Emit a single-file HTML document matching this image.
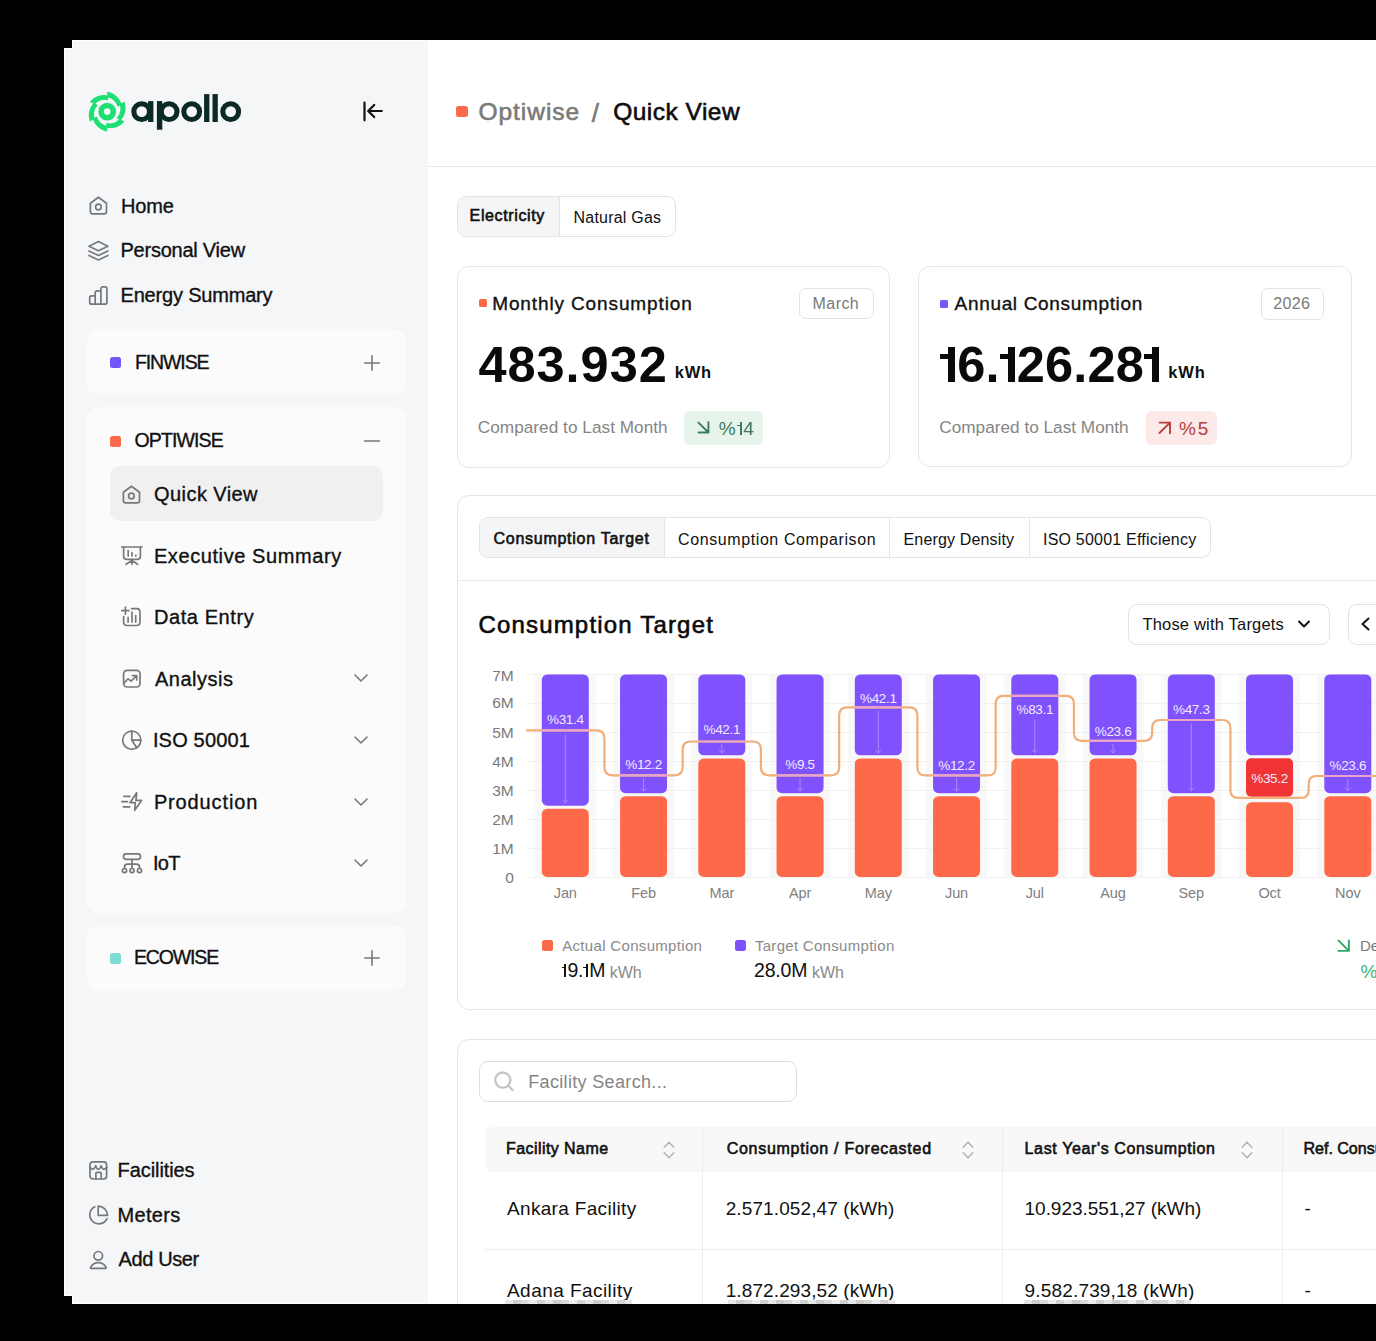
<!DOCTYPE html><html><head><meta charset="utf-8"><style>*{margin:0;padding:0;box-sizing:border-box}
html,body{width:1376px;height:1341px;overflow:hidden;background:#000}
body{position:relative;font-family:"Liberation Sans",sans-serif}
.a{position:absolute}
.t{position:absolute;white-space:nowrap;line-height:1}
.m{-webkit-text-stroke:0.35px currentColor}
.m2{-webkit-text-stroke:0.6px currentColor}
.o1{display:inline-block;position:relative;width:17px;height:35px}
.o1::before{content:"";position:absolute;left:8.1px;top:0;width:6.7px;height:35px;background:currentColor}
.o1s{display:inline-block;position:relative;width:7px;height:13.6px}
.o1s::before{content:"";position:absolute;left:3.3px;top:0;width:2.5px;height:13.6px;background:currentColor}
.o1s::after{content:"";position:absolute;left:0.2px;top:2.8px;width:3.4px;height:2.2px;background:currentColor}
.o1r{display:inline-block;position:relative;width:6.6px;height:13.4px}
.o1r::before{content:"";position:absolute;left:3.4px;top:0;width:1.8px;height:13.4px;background:currentColor}
.o1r::after{content:"";position:absolute;left:0.6px;top:2.7px;width:3px;height:1.7px;background:currentColor}
.o1::after{content:"";position:absolute;left:0;top:7.2px;width:9px;height:5.6px;background:currentColor}
</style></head><body>
<div class="a" style="left:72px;top:40px;width:1304px;height:1264px;background:#fff"></div>
<div class="a" style="left:64px;top:48px;width:8px;height:1248px;background:#fff"></div>
<div class="a" style="left:73px;top:41px;width:355px;height:1262px;background:#f5f6f8"></div>
<div class="a" style="left:65px;top:49px;width:8px;height:1246px;background:#f5f6f8"></div>
<svg class="a" style="left:80px;top:85px" width="55" height="55" viewBox="80 85 55 55"><circle cx="107.2" cy="111.6" r="6.1" fill="none" stroke="#1ddf73" stroke-width="5.6"/><path d="M89.97 101.65 L91.05 100.47 L92.21 99.40 L93.44 98.44 L94.72 97.60 L96.05 96.88 L97.41 96.27 L98.80 95.80 L100.20 95.44 L101.60 95.20 L102.99 95.08 L104.37 95.08 L105.72 95.19 L107.04 95.42 L108.31 95.74 L107.99 100.33 L107.09 100.09 L106.15 99.92 L105.18 99.83 L104.20 99.82 L103.20 99.89 L102.20 100.05 L101.19 100.30 L100.19 100.63 L99.21 101.06 L98.25 101.57 L97.33 102.16 L96.44 102.84 L95.60 103.61 L94.82 104.45 Z" fill="#1ddf73"/><path d="M107.20 91.70 L108.76 92.05 L110.27 92.52 L111.71 93.10 L113.09 93.79 L114.37 94.58 L115.58 95.46 L116.69 96.42 L117.70 97.45 L118.60 98.55 L119.40 99.70 L120.09 100.89 L120.67 102.12 L121.14 103.37 L121.49 104.63 L117.36 106.65 L117.11 105.74 L116.79 104.85 L116.39 103.97 L115.90 103.11 L115.34 102.28 L114.70 101.49 L113.98 100.74 L113.19 100.05 L112.34 99.41 L111.42 98.84 L110.44 98.33 L109.40 97.90 L108.32 97.56 L107.20 97.30 Z" fill="#1ddf73"/><path d="M124.43 101.65 L124.91 103.18 L125.26 104.72 L125.48 106.26 L125.57 107.79 L125.53 109.30 L125.37 110.78 L125.09 112.22 L124.70 113.62 L124.20 114.95 L123.61 116.22 L122.92 117.41 L122.15 118.52 L121.30 119.55 L120.38 120.49 L116.57 117.92 L117.23 117.26 L117.84 116.53 L118.40 115.74 L118.90 114.89 L119.34 113.99 L119.70 113.04 L119.99 112.05 L120.20 111.02 L120.33 109.96 L120.36 108.87 L120.31 107.77 L120.16 106.66 L119.92 105.55 L119.58 104.45 Z" fill="#1ddf73"/><path d="M124.43 121.55 L123.35 122.73 L122.19 123.80 L120.96 124.76 L119.68 125.60 L118.35 126.32 L116.99 126.93 L115.60 127.40 L114.20 127.76 L112.80 128.00 L111.41 128.12 L110.03 128.12 L108.68 128.01 L107.36 127.78 L106.09 127.46 L106.41 122.87 L107.31 123.11 L108.25 123.28 L109.22 123.37 L110.20 123.38 L111.20 123.31 L112.20 123.15 L113.21 122.90 L114.21 122.57 L115.19 122.14 L116.15 121.63 L117.07 121.04 L117.96 120.36 L118.80 119.59 L119.58 118.75 Z" fill="#1ddf73"/><path d="M107.20 131.50 L105.64 131.15 L104.13 130.68 L102.69 130.10 L101.31 129.41 L100.03 128.62 L98.82 127.74 L97.71 126.78 L96.70 125.75 L95.80 124.65 L95.00 123.50 L94.31 122.31 L93.73 121.08 L93.26 119.83 L92.91 118.57 L97.04 116.55 L97.29 117.46 L97.61 118.35 L98.01 119.23 L98.50 120.09 L99.06 120.92 L99.70 121.71 L100.42 122.46 L101.21 123.15 L102.06 123.79 L102.98 124.36 L103.96 124.87 L105.00 125.30 L106.08 125.64 L107.20 125.90 Z" fill="#1ddf73"/><path d="M89.97 121.55 L89.49 120.02 L89.14 118.48 L88.92 116.94 L88.83 115.41 L88.87 113.90 L89.03 112.42 L89.31 110.98 L89.70 109.58 L90.20 108.25 L90.79 106.98 L91.48 105.79 L92.25 104.68 L93.10 103.65 L94.02 102.71 L97.83 105.28 L97.17 105.94 L96.56 106.67 L96.00 107.46 L95.50 108.31 L95.06 109.21 L94.70 110.16 L94.41 111.15 L94.20 112.18 L94.07 113.24 L94.04 114.33 L94.09 115.43 L94.24 116.54 L94.48 117.65 L94.82 118.75 Z" fill="#1ddf73"/></svg>
<svg class="a" style="left:125px;top:88px" width="125" height="45" viewBox="125 88 125 45"><g fill="none" stroke="#0a2a23" stroke-width="5.1"><circle cx="141.7" cy="111.6" r="7.9"/><circle cx="169.1" cy="111.6" r="7.9"/><circle cx="191.7" cy="111.6" r="7.9"/><circle cx="230.7" cy="111.6" r="7.9"/></g><g fill="#0a2a23"><rect x="148.1" y="101.1" width="5.3" height="20.9"/><rect x="156.9" y="101.1" width="5.4" height="28.6"/><rect x="204.1" y="94.1" width="5.3" height="27.9"/><rect x="212.5" y="94.1" width="5.3" height="27.9"/></g></svg>
<svg class="a" style="left:355px;top:96px" width="30" height="30" viewBox="0 0 30 30" fill="none" stroke="#111" stroke-width="2.2" stroke-linecap="round" stroke-linejoin="round"><path d="M9.5 6.5 V24.3 M26.8 15 H13.3 M19.2 8.9 L13.2 15 L19.2 21.1"/></svg>
<svg class="a" style="left:84px;top:190px" width="30" height="30" viewBox="0 0 30 30" fill="none" stroke="#76797c" stroke-width="1.7" stroke-linecap="round" stroke-linejoin="round"><path d="M6.4 13.2 L14.4 7.3 L22.5 13.2 V21.4 Q22.5 23.8 20.1 23.8 H8.8 Q6.4 23.8 6.4 21.4 Z"/><circle cx="14.4" cy="17" r="2.8"/></svg>
<div class="t m" style="left:120.90px;top:195.67px;font-size:20px;color:#111;letter-spacing:-0.133px;">Home</div>
<svg class="a" style="left:84px;top:236px" width="30" height="30" viewBox="0 0 30 30" fill="none" stroke="#76797c" stroke-width="1.7" stroke-linecap="round" stroke-linejoin="round"><path d="M14.4 5.5 L23.9 10.3 L14.4 14.8 L5 10.3 Z"/><path d="M5 14.9 L14.4 19.4 L23.9 14.9"/><path d="M5 19.5 L14.4 24 L23.9 19.5"/></svg>
<div class="t m" style="left:120.50px;top:239.77px;font-size:20px;color:#111;letter-spacing:-0.242px;">Personal View</div>
<svg class="a" style="left:84px;top:281px" width="30" height="30" viewBox="0 0 30 30" fill="none" stroke="#76797c" stroke-width="1.7" stroke-linecap="round" stroke-linejoin="round"><path d="M5.7 16.9 Q5.7 14.9 7.7 14.9 H11.2 V11.9 Q11.2 9.9 13.2 9.9 H16.9 V7.9 Q16.9 5.9 18.9 5.9 H20.9 Q22.9 5.9 22.9 7.9 V21.2 Q22.9 23.2 20.9 23.2 H7.7 Q5.7 23.2 5.7 21.2 Z M11.2 14.9 V23.2 M16.9 9.9 V23.2"/></svg>
<div class="t m" style="left:120.50px;top:285.27px;font-size:20px;color:#111;letter-spacing:-0.185px;">Energy Summary</div>
<div class="a" style="left:87px;top:329px;width:319px;height:66px;background:#fbfbfb;border-radius:12px"></div>
<div class="a" style="left:110px;top:357px;width:11px;height:11px;background:#7356f8;border-radius:2.5px"></div>
<div class="t m" style="left:135.00px;top:352.89px;font-size:19.5px;color:#111;letter-spacing:-1.117px;">FINWISE</div>
<svg class="a" style="left:357px;top:348px" width="30" height="30" viewBox="0 0 30 30" fill="none" stroke="#76797c" stroke-width="1.6" stroke-linecap="round" stroke-linejoin="round"><path d="M15 7.8 V22.2 M7.8 15 H22.2"/></svg>
<div class="a" style="left:87px;top:407px;width:319px;height:506px;background:#fbfbfb;border-radius:12px"></div>
<div class="a" style="left:110px;top:435.5px;width:11px;height:11px;background:#fb6a4a;border-radius:2.5px"></div>
<div class="t m" style="left:134.50px;top:431.49px;font-size:19.5px;color:#111;letter-spacing:-0.886px;">OPTIWISE</div>
<svg class="a" style="left:357px;top:426px" width="30" height="30" viewBox="0 0 30 30" fill="none" stroke="#76797c" stroke-width="1.6" stroke-linecap="round" stroke-linejoin="round"><path d="M7.5 15 H22.5"/></svg>
<div class="a" style="left:110px;top:466px;width:273px;height:55px;background:#f0f0f1;border-radius:10px"></div>
<svg class="a" style="left:117px;top:479px" width="30" height="30" viewBox="0 0 30 30" fill="none" stroke="#76797c" stroke-width="1.7" stroke-linecap="round" stroke-linejoin="round"><path d="M6.4 13.2 L14.4 7.3 L22.5 13.2 V21.4 Q22.5 23.8 20.1 23.8 H8.8 Q6.4 23.8 6.4 21.4 Z"/><circle cx="14.4" cy="17" r="2.8"/></svg>
<div class="t m" style="left:154.10px;top:483.97px;font-size:20px;color:#111;letter-spacing:0.422px;">Quick View</div>
<svg class="a" style="left:117px;top:541px" width="30" height="30" viewBox="0 0 30 30" fill="none" stroke="#76797c" stroke-width="1.7" stroke-linecap="round" stroke-linejoin="round"><path d="M4.8 6 H25"/><path d="M6.6 6 V15.3 Q6.6 18.3 9.6 18.3 H20.4 Q23.4 18.3 23.4 15.3 V6"/><path d="M11.2 9.6 V15"/><path d="M15 11.5 V15"/><path d="M18.8 14 V15"/><path d="M14.9 18.3 V23.3 M14.9 19.5 L9 23.3 M14.9 19.5 L20.6 23.3"/></svg>
<div class="t m" style="left:153.90px;top:546.27px;font-size:20px;color:#111;letter-spacing:0.594px;">Executive Summary</div>
<svg class="a" style="left:117px;top:602px" width="30" height="30" viewBox="0 0 30 30" fill="none" stroke="#76797c" stroke-width="1.7" stroke-linecap="round" stroke-linejoin="round"><path d="M8.4 5 V12.2 M4.8 8.6 H12"/><path d="M14.6 6.6 H19.6 Q23 6.6 23 10 V20.1 Q23 23.5 19.6 23.5 H10 Q6.6 23.5 6.6 20.1 V14.6"/><path d="M11.1 15.4 V20.1 M15 10.2 V20.1 M18.7 13.6 V20.1"/></svg>
<div class="t m" style="left:153.90px;top:606.87px;font-size:20px;color:#111;letter-spacing:0.589px;">Data Entry</div>
<svg class="a" style="left:117px;top:664px" width="30" height="30" viewBox="0 0 30 30" fill="none" stroke="#76797c" stroke-width="1.7" stroke-linecap="round" stroke-linejoin="round"><rect x="6.6" y="6.3" width="16.4" height="16.7" rx="3.4"/><path d="M6.8 19.4 L11 14.8 L14.1 17.2 L19.7 11.6 M15.4 11.6 H19.7 V16"/></svg>
<div class="t m" style="left:154.90px;top:668.67px;font-size:20px;color:#111;letter-spacing:0.514px;">Analysis</div>
<svg class="a" style="left:117px;top:725px" width="30" height="30" viewBox="0 0 30 30" fill="none" stroke="#76797c" stroke-width="1.7" stroke-linecap="round" stroke-linejoin="round"><circle cx="14.8" cy="15.2" r="9.1"/><path d="M14.8 6.1 V15.2 H23.9 M14.8 15.2 L19.8 22.8"/></svg>
<div class="t m" style="left:152.90px;top:730.07px;font-size:20px;color:#111;letter-spacing:0.175px;">ISO 50001</div>
<svg class="a" style="left:117px;top:787px" width="30" height="30" viewBox="0 0 30 30" fill="none" stroke="#76797c" stroke-width="1.7" stroke-linecap="round" stroke-linejoin="round"><path d="M6.9 9.4 H12.8 M4.9 14.7 H10.5 M6.3 19.8 H12.8"/><path d="M19.7 5.8 L13 15.7 H18.3 L17.7 23.3 L24.6 13.4 H19 Z"/></svg>
<div class="t m" style="left:153.90px;top:791.57px;font-size:20px;color:#111;letter-spacing:0.867px;">Production</div>
<svg class="a" style="left:117px;top:848px" width="30" height="30" viewBox="0 0 30 30" fill="none" stroke="#76797c" stroke-width="1.7" stroke-linecap="round" stroke-linejoin="round"><rect x="6.5" y="5.8" width="17" height="5.6" rx="2.6"/><path d="M15 11.4 V20.5 M7.5 20.5 V19 Q7.5 16.1 10.4 16.1 H19.6 Q22.5 16.1 22.5 19 V20.5"/><circle cx="7.5" cy="22.6" r="2.1"/><circle cx="15" cy="22.6" r="2.1"/><circle cx="22.5" cy="22.6" r="2.1"/></svg>
<div class="t m" style="left:152.90px;top:853.07px;font-size:20px;color:#111;letter-spacing:-0.650px;">IoT</div>
<svg class="a" style="left:346px;top:663px" width="30" height="30" viewBox="0 0 30 30" fill="none" stroke="#76797c" stroke-width="1.6" stroke-linecap="round" stroke-linejoin="round"><path d="M9 12 L15 18 L21 12"/></svg>
<svg class="a" style="left:346px;top:725px" width="30" height="30" viewBox="0 0 30 30" fill="none" stroke="#76797c" stroke-width="1.6" stroke-linecap="round" stroke-linejoin="round"><path d="M9 12 L15 18 L21 12"/></svg>
<svg class="a" style="left:346px;top:786.5px" width="30" height="30" viewBox="0 0 30 30" fill="none" stroke="#76797c" stroke-width="1.6" stroke-linecap="round" stroke-linejoin="round"><path d="M9 12 L15 18 L21 12"/></svg>
<svg class="a" style="left:346px;top:848px" width="30" height="30" viewBox="0 0 30 30" fill="none" stroke="#76797c" stroke-width="1.6" stroke-linecap="round" stroke-linejoin="round"><path d="M9 12 L15 18 L21 12"/></svg>
<div class="a" style="left:87px;top:925px;width:319px;height:66px;background:#fbfbfb;border-radius:12px"></div>
<div class="a" style="left:110px;top:953px;width:11px;height:11px;background:#7ddcd3;border-radius:2.5px"></div>
<div class="t m" style="left:133.90px;top:947.99px;font-size:19.5px;color:#111;letter-spacing:-1.133px;">ECOWISE</div>
<svg class="a" style="left:357px;top:943px" width="30" height="30" viewBox="0 0 30 30" fill="none" stroke="#76797c" stroke-width="1.6" stroke-linecap="round" stroke-linejoin="round"><path d="M15 7.8 V22.2 M7.8 15 H22.2"/></svg>
<svg class="a" style="left:84px;top:1155px" width="30" height="30" viewBox="0 0 30 30" fill="none" stroke="#76797c" stroke-width="1.7" stroke-linecap="round" stroke-linejoin="round"><rect x="6" y="6.9" width="16.6" height="17.1" rx="3"/><path d="M6 12.3 Q7.3 14.3 8.8 14.3 Q10.5 14.3 11.6 10.8 Q12.7 14.3 14.3 14.3 Q16 14.3 17.2 10.8 Q18.3 14.3 19.8 14.3 Q21.3 14.3 22.6 12.3"/><path d="M11.9 24 V18.4 Q11.9 17.3 13 17.3 H16.1 Q17.2 17.3 17.2 18.4 V24"/></svg>
<div class="t m" style="left:117.60px;top:1159.97px;font-size:20px;color:#111;letter-spacing:-0.089px;">Facilities</div>
<svg class="a" style="left:84px;top:1200px" width="30" height="30" viewBox="0 0 30 30" fill="none" stroke="#76797c" stroke-width="1.7" stroke-linecap="round" stroke-linejoin="round"><path d="M10.8 6.8 A9 9 0 1 0 23 18.6"/><path d="M14.2 6.2 V15.4 H23.6 A9.6 9.4 0 0 0 14.2 6.2 Z"/></svg>
<div class="t m" style="left:117.60px;top:1205.07px;font-size:20px;color:#111;letter-spacing:0.300px;">Meters</div>
<svg class="a" style="left:84px;top:1245px" width="30" height="30" viewBox="0 0 30 30" fill="none" stroke="#76797c" stroke-width="1.7" stroke-linecap="round" stroke-linejoin="round"><circle cx="14.3" cy="10.8" r="4.3"/><path d="M7.2 23.3 H21.6 Q22.6 23.3 22 22.2 Q19.3 17.6 14.3 17.6 Q9.3 17.6 6.7 22.2 Q6.1 23.3 7.2 23.3 Z"/></svg>
<div class="t m" style="left:118.60px;top:1249.27px;font-size:20px;color:#111;letter-spacing:-0.400px;">Add User</div>
<div class="a" style="left:456px;top:106px;width:11.5px;height:11px;background:#fb6a4a;border-radius:2.5px"></div>
<div class="t m2" style="left:478.50px;top:100.26px;font-size:24.5px;color:#7a7a7a;letter-spacing:0.957px;">Optiwise</div>
<div class="t m2" style="left:591.70px;top:100.49px;font-size:26px;color:#7a7a7a;">/</div>
<div class="t m2" style="left:613.20px;top:100.26px;font-size:24.5px;color:#0d0d0d;letter-spacing:0.489px;">Quick View</div>
<div class="a" style="left:428px;top:166px;width:948px;height:1px;background:#e6e6e6"></div>
<div class="a" style="left:456.5px;top:195.5px;width:219px;height:41px;border:1px solid #e3e3e3;border-radius:9px;background:#fff;overflow:hidden"></div>
<div class="a" style="left:457.5px;top:196.5px;width:101.5px;height:39px;background:#f4f5f7;border-radius:8px 0 0 8px"></div>
<div class="a" style="left:559px;top:196.5px;width:1px;height:39px;background:#e6e6e6"></div>
<div class="t m2" style="left:469.60px;top:208.26px;font-size:16px;color:#111;letter-spacing:0.630px;">Electricity</div>
<div class="t" style="left:573.50px;top:209.56px;font-size:16px;color:#111;letter-spacing:0.220px;">Natural Gas</div>
<div class="a" style="left:456.5px;top:265.5px;width:433px;height:202px;border:1px solid #e6e6e6;border-radius:12px;background:#fff"></div>
<div class="a" style="left:917.5px;top:265.5px;width:434px;height:201px;border:1px solid #e6e6e6;border-radius:12px;background:#fff"></div>
<div class="a" style="left:479px;top:299.3px;width:8px;height:8px;background:#fb6a4a;border-radius:1.5px"></div>
<div class="t m" style="left:492.20px;top:293.82px;font-size:19px;color:#111;letter-spacing:0.878px;">Monthly Consumption</div>
<div class="a" style="left:799px;top:287.5px;width:75px;height:31.5px;border:1px solid #e3e3e3;border-radius:7px"></div>
<div class="t" style="left:812.60px;top:295.56px;font-size:16px;color:#7a7a7a;letter-spacing:0.425px;">March</div>
<div class="t" style="left:478.40px;top:339.55px;font-size:50.5px;color:#0a0a0a;font-weight:700;letter-spacing:0.983px;">483.932</div>
<div class="t" style="left:674.80px;top:364.13px;font-size:16.5px;color:#111;font-weight:700;letter-spacing:0.700px;">kWh</div>
<div class="t" style="left:477.80px;top:418.64px;font-size:17.2px;color:#858585;letter-spacing:0.033px;">Compared to Last Month</div>
<div class="a" style="left:684px;top:411px;width:79px;height:34px;background:#e7f4ec;border-radius:6px"></div>
<div class="t" style="left:718.80px;top:419.32px;font-size:19px;color:#3e7a5e;letter-spacing:1.050px;">%<span class="o1r"></span>4</div>
<svg class="a" style="left:688px;top:413px" width="30" height="30" viewBox="0 0 30 30" fill="none" stroke="#3e7a5e" stroke-width="1.9" stroke-linecap="round" stroke-linejoin="round"><path d="M10.5 9.6 L20.4 19.5 M20.4 9.3 V19.5 H10.5"/></svg>
<div class="a" style="left:940px;top:300px;width:8px;height:8px;background:#7356f8;border-radius:1.5px"></div>
<div class="t m" style="left:954.60px;top:294.12px;font-size:19px;color:#111;letter-spacing:0.665px;">Annual Consumption</div>
<div class="a" style="left:1260.5px;top:288px;width:63px;height:31.5px;border:1px solid #e3e3e3;border-radius:7px"></div>
<div class="t" style="left:1273.20px;top:296.46px;font-size:16px;color:#7a7a7a;letter-spacing:0.333px;">2026</div>
<div class="t" style="left:940.30px;top:339.55px;font-size:50.5px;color:#0a0a0a;font-weight:700;letter-spacing:0.189px;"><span class="o1"></span>6.<span class="o1"></span>26.28<span class="o1"></span></div>
<div class="t" style="left:1168.30px;top:364.13px;font-size:16.5px;color:#111;font-weight:700;letter-spacing:0.800px;">kWh</div>
<div class="t" style="left:939.30px;top:418.64px;font-size:17.2px;color:#858585;letter-spacing:0.010px;">Compared to Last Month</div>
<div class="a" style="left:1146px;top:411px;width:71px;height:33.5px;background:#fce9e9;border-radius:6px"></div>
<div class="t" style="left:1179.10px;top:418.52px;font-size:19px;color:#b5403a;letter-spacing:1.800px;">%5</div>
<svg class="a" style="left:1150px;top:413px" width="30" height="30" viewBox="0 0 30 30" fill="none" stroke="#b5403a" stroke-width="1.9" stroke-linecap="round" stroke-linejoin="round"><path d="M9.5 20 L20 9.6 M9.6 9.6 H20 V20.3"/></svg>
<div class="a" style="left:456.5px;top:494.5px;width:950px;height:515.5px;border:1px solid #e6e6e6;border-radius:12px;background:#fff"></div>
<div class="a" style="left:457.5px;top:579.5px;width:919px;height:1px;background:#e9e9e9"></div>
<div class="a" style="left:478.5px;top:516.5px;width:732px;height:41.5px;border:1px solid #e3e3e3;border-radius:9px;overflow:hidden"></div>
<div class="a" style="left:479.5px;top:517.5px;width:184.5px;height:39.5px;background:#f4f5f7;border-radius:8px 0 0 8px"></div>
<div class="a" style="left:664px;top:517.5px;width:1px;height:39.5px;background:#e6e6e6"></div>
<div class="a" style="left:888.5px;top:517.5px;width:1px;height:39.5px;background:#e6e6e6"></div>
<div class="a" style="left:1028.5px;top:517.5px;width:1px;height:39.5px;background:#e6e6e6"></div>
<div class="t m2" style="left:493.50px;top:530.76px;font-size:16px;color:#111;letter-spacing:0.735px;">Consumption Target</div>
<div class="t" style="left:678.00px;top:531.66px;font-size:16px;color:#111;letter-spacing:0.600px;">Consumption Comparison</div>
<div class="t" style="left:903.50px;top:531.66px;font-size:16px;color:#111;letter-spacing:0.154px;">Energy Density</div>
<div class="t" style="left:1043.00px;top:531.66px;font-size:16px;color:#111;letter-spacing:0.211px;">ISO 50001 Efficiency</div>
<div class="t m2" style="left:478.40px;top:612.68px;font-size:24px;color:#0a0a0a;letter-spacing:1.182px;">Consumption Target</div>
<div class="a" style="left:1127.5px;top:603.5px;width:202px;height:41px;border:1px solid #e3e3e3;border-radius:9px"></div>
<div class="t" style="left:1142.40px;top:615.63px;font-size:16.5px;color:#111;letter-spacing:0.194px;">Those with Targets</div>
<svg class="a" style="left:1289px;top:609px" width="30" height="30" viewBox="0 0 30 30" fill="none" stroke="#111" stroke-width="2" stroke-linecap="round" stroke-linejoin="round"><path d="M10 12.5 L15 17.5 L20 12.5"/></svg>
<div class="a" style="left:1347.5px;top:603.5px;width:60px;height:41px;border:1px solid #e3e3e3;border-radius:9px"></div>
<svg class="a" style="left:1351px;top:609px" width="30" height="30" viewBox="0 0 30 30" fill="none" stroke="#111" stroke-width="2" stroke-linecap="round" stroke-linejoin="round"><path d="M17.5 9.5 L11.5 15 L17.5 20.5"/></svg>
<svg class="a" style="left:460px;top:650px" width="916" height="260" viewBox="460 650 916 260"><defs><clipPath id="bars"><rect x="541.80" y="674.5" width="47" height="131.20" rx="5.5"/><rect x="620.05" y="674.5" width="47" height="118.70" rx="5.5"/><rect x="698.30" y="674.5" width="47" height="80.80" rx="5.5"/><rect x="776.55" y="674.5" width="47" height="118.70" rx="5.5"/><rect x="854.80" y="674.5" width="47" height="80.80" rx="5.5"/><rect x="933.05" y="674.5" width="47" height="118.70" rx="5.5"/><rect x="1011.30" y="674.5" width="47" height="80.80" rx="5.5"/><rect x="1089.55" y="674.5" width="47" height="80.80" rx="5.5"/><rect x="1167.80" y="674.5" width="47" height="118.70" rx="5.5"/><rect x="1246.05" y="674.5" width="47" height="80.80" rx="5.5"/><rect x="1324.30" y="674.5" width="47" height="118.70" rx="5.5"/></clipPath></defs><rect x="534.80" y="674.5" width="61" height="203.00" fill="#f8f8f8"/><rect x="613.05" y="674.5" width="61" height="203.00" fill="#f8f8f8"/><rect x="691.30" y="674.5" width="61" height="203.00" fill="#f8f8f8"/><rect x="769.55" y="674.5" width="61" height="203.00" fill="#f8f8f8"/><rect x="847.80" y="674.5" width="61" height="203.00" fill="#f8f8f8"/><rect x="926.05" y="674.5" width="61" height="203.00" fill="#f8f8f8"/><rect x="1004.30" y="674.5" width="61" height="203.00" fill="#f8f8f8"/><rect x="1082.55" y="674.5" width="61" height="203.00" fill="#f8f8f8"/><rect x="1160.80" y="674.5" width="61" height="203.00" fill="#f8f8f8"/><rect x="1239.05" y="674.5" width="61" height="203.00" fill="#f8f8f8"/><rect x="1317.30" y="674.5" width="61" height="203.00" fill="#f8f8f8"/><rect x="528" y="877.00" width="848" height="1" fill="#f0f0f0"/><rect x="528" y="848.00" width="848" height="1" fill="#f0f0f0"/><rect x="528" y="819.00" width="848" height="1" fill="#f0f0f0"/><rect x="528" y="790.00" width="848" height="1" fill="#f0f0f0"/><rect x="528" y="761.00" width="848" height="1" fill="#f0f0f0"/><rect x="528" y="732.00" width="848" height="1" fill="#f0f0f0"/><rect x="528" y="703.00" width="848" height="1" fill="#f0f0f0"/><rect x="528" y="674.00" width="848" height="1" fill="#f0f0f0"/><rect x="541.80" y="674.5" width="47" height="131.20" rx="5.5" fill="#7f52fd"/><rect x="541.80" y="808.70" width="47" height="68.20" rx="5.5" fill="#fe6949"/><rect x="620.05" y="674.5" width="47" height="118.70" rx="5.5" fill="#7f52fd"/><rect x="620.05" y="796.20" width="47" height="80.70" rx="5.5" fill="#fe6949"/><rect x="698.30" y="674.5" width="47" height="80.80" rx="5.5" fill="#7f52fd"/><rect x="698.30" y="758.50" width="47" height="118.40" rx="5.5" fill="#fe6949"/><rect x="776.55" y="674.5" width="47" height="118.70" rx="5.5" fill="#7f52fd"/><rect x="776.55" y="796.20" width="47" height="80.70" rx="5.5" fill="#fe6949"/><rect x="854.80" y="674.5" width="47" height="80.80" rx="5.5" fill="#7f52fd"/><rect x="854.80" y="758.50" width="47" height="118.40" rx="5.5" fill="#fe6949"/><rect x="933.05" y="674.5" width="47" height="118.70" rx="5.5" fill="#7f52fd"/><rect x="933.05" y="796.20" width="47" height="80.70" rx="5.5" fill="#fe6949"/><rect x="1011.30" y="674.5" width="47" height="80.80" rx="5.5" fill="#7f52fd"/><rect x="1011.30" y="758.50" width="47" height="118.40" rx="5.5" fill="#fe6949"/><rect x="1089.55" y="674.5" width="47" height="80.80" rx="5.5" fill="#7f52fd"/><rect x="1089.55" y="758.50" width="47" height="118.40" rx="5.5" fill="#fe6949"/><rect x="1167.80" y="674.5" width="47" height="118.70" rx="5.5" fill="#7f52fd"/><rect x="1167.80" y="796.20" width="47" height="80.70" rx="5.5" fill="#fe6949"/><rect x="1246.05" y="674.5" width="47" height="80.80" rx="5.5" fill="#7f52fd"/><rect x="1246.05" y="758.2" width="47" height="38.6" rx="5" fill="#f03335"/><rect x="1246.05" y="802.30" width="47" height="74.60" rx="5.5" fill="#fe6949"/><rect x="1324.30" y="674.5" width="47" height="118.70" rx="5.5" fill="#7f52fd"/><rect x="1324.30" y="796.20" width="47" height="80.70" rx="5.5" fill="#fe6949"/><path d="M526 730.4 H596.42 Q604.42 730.40 604.42 738.40 V767.30 Q604.42 775.30 612.42 775.30 H674.67 Q682.67 775.30 682.67 767.30 V749.50 Q682.67 741.50 690.67 741.50 H752.92 Q760.92 741.50 760.92 749.50 V767.30 Q760.92 775.30 768.92 775.30 H831.17 Q839.17 775.30 839.17 767.30 V715.30 Q839.17 707.30 847.17 707.30 H909.42 Q917.42 707.30 917.42 715.30 V767.40 Q917.42 775.40 925.42 775.40 H987.67 Q995.67 775.40 995.67 767.40 V703.80 Q995.67 695.80 1003.67 695.80 H1065.92 Q1073.92 695.80 1073.92 703.80 V732.80 Q1073.92 740.80 1081.92 740.80 H1144.17 Q1152.17 740.80 1152.17 732.80 V728.00 Q1152.17 720.00 1160.17 720.00 H1222.42 Q1230.42 720.00 1230.42 728.00 V789.90 Q1230.42 797.90 1238.42 797.90 H1300.67 Q1308.67 797.90 1308.67 789.90 V784.00 Q1308.67 776.00 1316.67 776.00 H1376" fill="none" stroke="#f3ae78" stroke-width="2.2"/><path d="M526 730.4 H596.42 Q604.42 730.40 604.42 738.40 V767.30 Q604.42 775.30 612.42 775.30 H674.67 Q682.67 775.30 682.67 767.30 V749.50 Q682.67 741.50 690.67 741.50 H752.92 Q760.92 741.50 760.92 749.50 V767.30 Q760.92 775.30 768.92 775.30 H831.17 Q839.17 775.30 839.17 767.30 V715.30 Q839.17 707.30 847.17 707.30 H909.42 Q917.42 707.30 917.42 715.30 V767.40 Q917.42 775.40 925.42 775.40 H987.67 Q995.67 775.40 995.67 767.40 V703.80 Q995.67 695.80 1003.67 695.80 H1065.92 Q1073.92 695.80 1073.92 703.80 V732.80 Q1073.92 740.80 1081.92 740.80 H1144.17 Q1152.17 740.80 1152.17 732.80 V728.00 Q1152.17 720.00 1160.17 720.00 H1222.42 Q1230.42 720.00 1230.42 728.00 V789.90 Q1230.42 797.90 1238.42 797.90 H1300.67 Q1308.67 797.90 1308.67 789.90 V784.00 Q1308.67 776.00 1316.67 776.00 H1376" fill="none" stroke="#e8a4cb" stroke-width="2.2" clip-path="url(#bars)"/><path d="M565.30 735 V803 M562.70 800.4 L565.30 803 L567.90 800.4" fill="none" stroke="#a98bff" stroke-width="1" stroke-linecap="round"/><path d="M643.55 778.5 V791 M640.95 788.4 L643.55 791 L646.15 788.4" fill="none" stroke="#a98bff" stroke-width="1" stroke-linecap="round"/><path d="M721.80 744.5 V753 M719.20 750.4 L721.80 753 L724.40 750.4" fill="none" stroke="#a98bff" stroke-width="1" stroke-linecap="round"/><path d="M800.05 778.5 V791 M797.45 788.4 L800.05 791 L802.65 788.4" fill="none" stroke="#a98bff" stroke-width="1" stroke-linecap="round"/><path d="M878.30 711.5 V753 M875.70 750.4 L878.30 753 L880.90 750.4" fill="none" stroke="#a98bff" stroke-width="1" stroke-linecap="round"/><path d="M956.55 778.5 V791 M953.95 788.4 L956.55 791 L959.15 788.4" fill="none" stroke="#a98bff" stroke-width="1" stroke-linecap="round"/><path d="M1034.80 720 V752.5 M1032.20 749.9 L1034.80 752.5 L1037.40 749.9" fill="none" stroke="#a98bff" stroke-width="1" stroke-linecap="round"/><path d="M1113.05 744.5 V753 M1110.45 750.4 L1113.05 753 L1115.65 750.4" fill="none" stroke="#a98bff" stroke-width="1" stroke-linecap="round"/><path d="M1191.30 724 V790.5 M1188.70 787.9 L1191.30 790.5 L1193.90 787.9" fill="none" stroke="#a98bff" stroke-width="1" stroke-linecap="round"/><path d="M1347.80 779.5 V790.5 M1345.20 787.9 L1347.80 790.5 L1350.40 787.9" fill="none" stroke="#a98bff" stroke-width="1" stroke-linecap="round"/></svg>
<div class="t" style="left:453.80px;top:870.13px;width:60px;text-align:right;font-size:15.5px;color:#7a7a7a;">0</div>
<div class="t" style="left:453.80px;top:841.13px;width:60px;text-align:right;font-size:15.5px;color:#7a7a7a;">1M</div>
<div class="t" style="left:453.80px;top:812.13px;width:60px;text-align:right;font-size:15.5px;color:#7a7a7a;">2M</div>
<div class="t" style="left:453.80px;top:783.13px;width:60px;text-align:right;font-size:15.5px;color:#7a7a7a;">3M</div>
<div class="t" style="left:453.80px;top:754.13px;width:60px;text-align:right;font-size:15.5px;color:#7a7a7a;">4M</div>
<div class="t" style="left:453.80px;top:725.13px;width:60px;text-align:right;font-size:15.5px;color:#7a7a7a;">5M</div>
<div class="t" style="left:453.80px;top:694.73px;width:60px;text-align:right;font-size:15.5px;color:#7a7a7a;">6M</div>
<div class="t" style="left:453.80px;top:668.43px;width:60px;text-align:right;font-size:15.5px;color:#7a7a7a;">7M</div>
<div class="t" style="left:505.30px;top:885.53px;width:120px;text-align:center;font-size:14.5px;color:#808080;letter-spacing:-0.1px;">Jan</div>
<div class="t" style="left:583.55px;top:885.53px;width:120px;text-align:center;font-size:14.5px;color:#808080;letter-spacing:-0.1px;">Feb</div>
<div class="t" style="left:661.80px;top:885.53px;width:120px;text-align:center;font-size:14.5px;color:#808080;letter-spacing:-0.1px;">Mar</div>
<div class="t" style="left:740.05px;top:885.53px;width:120px;text-align:center;font-size:14.5px;color:#808080;letter-spacing:-0.1px;">Apr</div>
<div class="t" style="left:818.30px;top:885.53px;width:120px;text-align:center;font-size:14.5px;color:#808080;letter-spacing:-0.1px;">May</div>
<div class="t" style="left:896.55px;top:885.53px;width:120px;text-align:center;font-size:14.5px;color:#808080;letter-spacing:-0.1px;">Jun</div>
<div class="t" style="left:974.80px;top:885.53px;width:120px;text-align:center;font-size:14.5px;color:#808080;letter-spacing:-0.1px;">Jul</div>
<div class="t" style="left:1053.05px;top:885.53px;width:120px;text-align:center;font-size:14.5px;color:#808080;letter-spacing:-0.1px;">Aug</div>
<div class="t" style="left:1131.30px;top:885.53px;width:120px;text-align:center;font-size:14.5px;color:#808080;letter-spacing:-0.1px;">Sep</div>
<div class="t" style="left:1209.55px;top:885.53px;width:120px;text-align:center;font-size:14.5px;color:#808080;letter-spacing:-0.1px;">Oct</div>
<div class="t" style="left:1287.80px;top:885.53px;width:120px;text-align:center;font-size:14.5px;color:#808080;letter-spacing:-0.1px;">Nov</div>
<div class="t" style="left:505.30px;top:713.17px;width:120px;text-align:center;font-size:13.5px;color:#f3ecff;letter-spacing:-0.35px;">%31.4</div>
<div class="t" style="left:583.55px;top:758.37px;width:120px;text-align:center;font-size:13.5px;color:#f3ecff;letter-spacing:-0.35px;">%12.2</div>
<div class="t" style="left:661.80px;top:723.47px;width:120px;text-align:center;font-size:13.5px;color:#f3ecff;letter-spacing:-0.35px;">%42.1</div>
<div class="t" style="left:740.05px;top:758.37px;width:120px;text-align:center;font-size:13.5px;color:#f3ecff;letter-spacing:-0.35px;">%9.5</div>
<div class="t" style="left:818.30px;top:692.37px;width:120px;text-align:center;font-size:13.5px;color:#f3ecff;letter-spacing:-0.35px;">%42.1</div>
<div class="t" style="left:896.55px;top:758.57px;width:120px;text-align:center;font-size:13.5px;color:#f3ecff;letter-spacing:-0.35px;">%12.2</div>
<div class="t" style="left:974.80px;top:703.07px;width:120px;text-align:center;font-size:13.5px;color:#f3ecff;letter-spacing:-0.35px;">%83.1</div>
<div class="t" style="left:1053.05px;top:724.77px;width:120px;text-align:center;font-size:13.5px;color:#f3ecff;letter-spacing:-0.35px;">%23.6</div>
<div class="t" style="left:1131.30px;top:703.07px;width:120px;text-align:center;font-size:13.5px;color:#f3ecff;letter-spacing:-0.35px;">%47.3</div>
<div class="t" style="left:1209.55px;top:772.37px;width:120px;text-align:center;font-size:13.5px;color:#f3ecff;letter-spacing:-0.35px;">%35.2</div>
<div class="t" style="left:1287.80px;top:758.57px;width:120px;text-align:center;font-size:13.5px;color:#f3ecff;letter-spacing:-0.35px;">%23.6</div>
<div class="a" style="left:541.8px;top:940.3px;width:11px;height:11px;background:#fe6949;border-radius:2.5px"></div>
<div class="t" style="left:562.20px;top:938.20px;font-size:15px;color:#8a8a8a;letter-spacing:0.324px;">Actual Consumption</div>
<div class="t" style="left:561.00px;top:961.29px;font-size:19.5px;color:#111;letter-spacing:-0.550px;"><span class="o1r"></span>9.<span class="o1r"></span>M</div>
<div class="t" style="left:609.70px;top:964.56px;font-size:16px;color:#8a8a8a;letter-spacing:-0.050px;">kWh</div>
<div class="a" style="left:734.5px;top:940.3px;width:11px;height:11px;background:#7f52fd;border-radius:2.5px"></div>
<div class="t" style="left:754.90px;top:938.20px;font-size:15px;color:#8a8a8a;letter-spacing:0.300px;">Target Consumption</div>
<div class="t" style="left:754.00px;top:961.29px;font-size:19.5px;color:#111;letter-spacing:-0.175px;">28.0M</div>
<div class="t" style="left:812.00px;top:964.56px;font-size:16px;color:#8a8a8a;">kWh</div>
<svg class="a" style="left:1333px;top:936px" width="20" height="20" viewBox="0 0 20 20" fill="none" stroke="#2eaa66" stroke-width="1.9" stroke-linecap="round" stroke-linejoin="round"><path d="M5.6 4.6 L15.9 14.9 M15.9 4.4 V14.9 H5.4"/></svg>
<div class="t" style="left:1360px;top:938.3px;font-size:15px;color:#7a7a7a">De</div>
<div class="t" style="left:1360.5px;top:961.5px;font-size:19px;color:#3bb874">%</div>
<div class="a" style="left:456.5px;top:1038.5px;width:950px;height:300px;border:1px solid #e6e6e6;border-radius:12px;background:#fff"></div>
<div class="a" style="left:479px;top:1060.5px;width:318px;height:41.5px;border:1px solid #dedede;border-radius:9px"></div>
<svg class="a" style="left:491px;top:1069px" width="24" height="24" viewBox="0 0 24 24" fill="none" stroke="#c4c4c4" stroke-width="2.3" stroke-linecap="round" stroke-linejoin="round"><circle cx="11.8" cy="11.1" r="7.6"/><path d="M17.4 16.8 L21.6 21"/></svg>
<div class="t" style="left:528.20px;top:1073.36px;font-size:18px;color:#858585;letter-spacing:0.341px;">Facility Search...</div>
<div class="a" style="left:484.5px;top:1126.5px;width:900px;height:45px;background:#f8f8f9;border-radius:7px 0 0 7px"></div>
<div class="a" style="left:702.4px;top:1126.5px;width:1px;height:178px;background:#ededed"></div>
<div class="a" style="left:1001.8px;top:1126.5px;width:1px;height:178px;background:#ededed"></div>
<div class="a" style="left:1281.7px;top:1126.5px;width:1px;height:178px;background:#ededed"></div>
<div class="a" style="left:484.5px;top:1249.2px;width:900px;height:1px;background:#ededed"></div>
<div class="t m2" style="left:506.00px;top:1141.26px;font-size:16px;color:#111;letter-spacing:0.433px;">Facility Name</div>
<div class="t m2" style="left:726.70px;top:1141.26px;font-size:16px;color:#111;letter-spacing:0.726px;">Consumption / Forecasted</div>
<div class="t m2" style="left:1024.60px;top:1141.26px;font-size:16px;color:#111;letter-spacing:0.627px;">Last Year's Consumption</div>
<div class="t" style="left:1303.5px;top:1140.5px;font-size:16px;color:#111;-webkit-text-stroke:0.6px #111">Ref. Consumption</div>
<svg class="a" style="left:661.7px;top:1139.7px" width="14" height="20" viewBox="0 0 14 20" fill="none" stroke="#b5b5b5" stroke-width="1.6" stroke-linecap="round" stroke-linejoin="round"><path d="M2.2 7.2 L7 2.2 L11.8 7.2 M2.2 12.8 L7 17.8 L11.8 12.8"/></svg>
<svg class="a" style="left:960.7px;top:1139.7px" width="14" height="20" viewBox="0 0 14 20" fill="none" stroke="#b5b5b5" stroke-width="1.6" stroke-linecap="round" stroke-linejoin="round"><path d="M2.2 7.2 L7 2.2 L11.8 7.2 M2.2 12.8 L7 17.8 L11.8 12.8"/></svg>
<svg class="a" style="left:1240.2px;top:1139.7px" width="14" height="20" viewBox="0 0 14 20" fill="none" stroke="#b5b5b5" stroke-width="1.6" stroke-linecap="round" stroke-linejoin="round"><path d="M2.2 7.2 L7 2.2 L11.8 7.2 M2.2 12.8 L7 17.8 L11.8 12.8"/></svg>
<div class="t" style="left:507.00px;top:1199.02px;font-size:19px;color:#111;letter-spacing:0.329px;">Ankara Facility</div>
<div class="t" style="left:725.70px;top:1199.02px;font-size:19px;color:#111;letter-spacing:0.106px;">2.571.052,47 (kWh)</div>
<div class="t" style="left:1024.60px;top:1199.02px;font-size:19px;color:#111;letter-spacing:-0.044px;">10.923.551,27 (kWh)</div>
<div class="t" style="left:1304.60px;top:1199.02px;font-size:19px;color:#111;">-</div>
<div class="t" style="left:507.00px;top:1280.92px;font-size:19px;color:#111;letter-spacing:0.446px;">Adana Facility</div>
<div class="t" style="left:725.70px;top:1280.92px;font-size:19px;color:#111;letter-spacing:0.106px;">1.872.293,52 (kWh)</div>
<div class="t" style="left:1024.60px;top:1280.92px;font-size:19px;color:#111;letter-spacing:0.165px;">9.582.739,18 (kWh)</div>
<div class="t" style="left:1304.60px;top:1280.92px;font-size:19px;color:#111;">-</div>
<div class="a" style="left:504.5px;top:1300px;width:127.5px;height:4px;background:repeating-linear-gradient(90deg,#e6e6e6 0 8px,#cdcdcd 8px 16px,#d9d9d9 16px 24px,#ececec 24px 32px,#d2d2d2 32px 40px)"></div>
<div class="a" style="left:728px;top:1300px;width:166.7px;height:4px;background:repeating-linear-gradient(90deg,#e6e6e6 0 8px,#cdcdcd 8px 16px,#d9d9d9 16px 24px,#ececec 24px 32px,#d2d2d2 32px 40px)"></div>
<div class="a" style="left:1023.7px;top:1300px;width:167.7px;height:4px;background:repeating-linear-gradient(90deg,#e6e6e6 0 8px,#cdcdcd 8px 16px,#d9d9d9 16px 24px,#ececec 24px 32px,#d2d2d2 32px 40px)"></div>
<div class="a" style="left:0px;top:1304px;width:1376px;height:37px;background:#000"></div>
<div class="a" style="left:64px;top:1296px;width:8px;height:8px;background:#000"></div>
</body></html>
